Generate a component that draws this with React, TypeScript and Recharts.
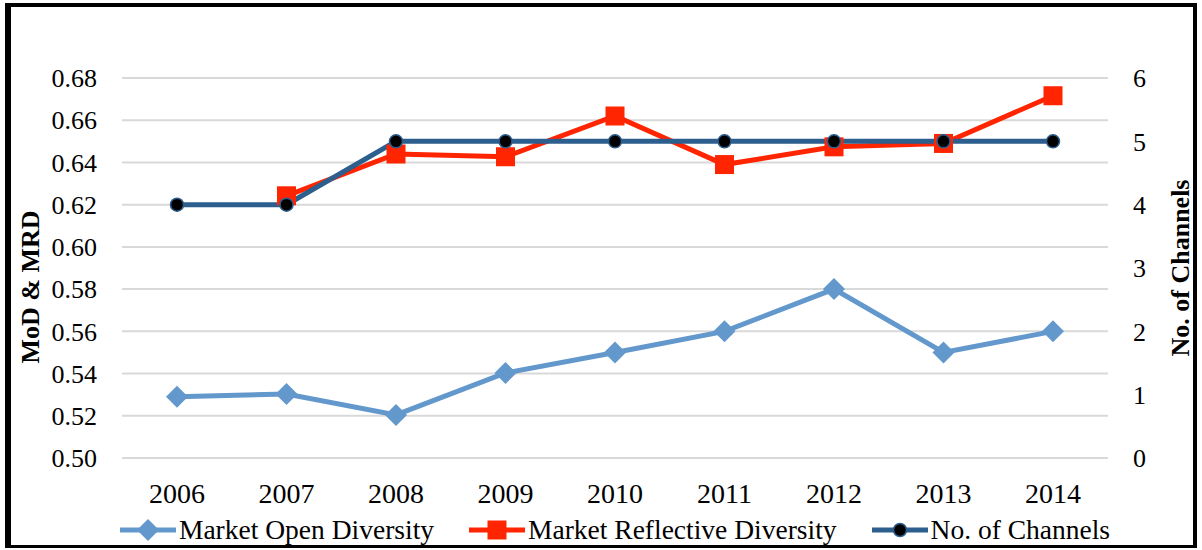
import {
  CartesianGrid,
  Legend,
  Line,
  LineChart,
  XAxis,
  YAxis
} from "recharts";

const years = ["2006", "2007", "2008", "2009", "2010", "2011", "2012", "2013", "2014"];
const openDiversity = [0.529, 0.5303, 0.5204, 0.5403, 0.55, 0.56, 0.58, 0.55, 0.56];
const reflectiveDiversity = [null, 0.6242, 0.644, 0.6427, 0.662, 0.639, 0.6474, 0.649, 0.6716];
const channels = [4, 4, 5, 5, 5, 5, 5, 5, 5];
const leftTicks = [0.5, 0.52, 0.54, 0.56, 0.58, 0.6, 0.62, 0.64, 0.66, 0.68];
const rightTicks = [0, 1, 2, 3, 4, 5, 6];

const FONT = "'Liberation Serif', 'Times New Roman', serif";
const OPEN = "#6398cd";
const REFLECT = "#ff2500";
const CHAN = "#2c5e8e";

const data = years.map((year, i) => ({
  year,
  open: openDiversity[i],
  reflective: reflectiveDiversity[i],
  channels: channels[i]
}));

const Diamond = ({ cx, cy, index }: any) =>
  cx == null || cy == null ? (
    <g key={`d-${index}`} />
  ) : (
    <path
      key={`d-${index}`}
      d={`M${cx - 11},${cy} L${cx},${cy - 11} L${cx + 11},${cy} L${cx},${cy + 11} Z`}
      fill={OPEN}
    />
  );

const Square = ({ cx, cy, index }: any) =>
  cx == null || cy == null ? (
    <g key={`s-${index}`} />
  ) : (
    <rect key={`s-${index}`} x={cx - 9.5} y={cy - 9.5} width={19} height={19} fill={REFLECT} />
  );

const Dot = ({ cx, cy, index }: any) => (
  <circle key={`c-${index}`} cx={cx} cy={cy} r={6.5} fill="#000" stroke={CHAN} strokeWidth={1.5} />
);

const legendItems = [
  { label: "Market Open Diversity", kind: "diamond", color: OPEN },
  { label: "Market Reflective Diversity", kind: "square", color: REFLECT },
  { label: "No. of Channels", kind: "dot", color: CHAN }
];

function LegendIcon({ kind, color }: { kind: string; color: string }) {
  return (
    <svg width={56} height={24}>
      <line x1={0} y1={12} x2={56} y2={12} stroke={color} strokeWidth={5} />
      {kind === "diamond" && <path d="M17,12 L28,1 L39,12 L28,23 Z" fill={color} />}
      {kind === "square" && <rect x={18.5} y={2.5} width={19} height={19} fill={color} />}
      {kind === "dot" && <circle cx={28} cy={12} r={6.5} fill="#000" stroke={color} strokeWidth={1.5} />}
    </svg>
  );
}

function ChartLegend() {
  return (
    <div style={{ display: "flex", justifyContent: "center", gap: 35, paddingLeft: 28 }}>
      {legendItems.map((item) => (
        <div key={item.label} style={{ display: "flex", alignItems: "center", gap: 3 }}>
          <LegendIcon kind={item.kind} color={item.color} />
          <span style={{ fontFamily: FONT, fontSize: 27.5, color: "#000" }}>{item.label}</span>
        </div>
      ))}
    </div>
  );
}

export default function App() {
  return (
    <div style={{ position: "absolute", left: 0, top: 0, width: 1202, height: 550, background: "#fff" }}>
      <div
        style={{
          position: "absolute",
          left: 5,
          top: 3,
          width: 1192,
          height: 545,
          boxSizing: "border-box",
          borderStyle: "solid",
          borderColor: "#000",
          borderWidth: "4px 4px 3px 6px"
        }}
      />
      <LineChart
        width={1202}
        height={550}
        data={data}
        margin={{ top: 78, right: 22, bottom: 52, left: 30 }}
        style={{ position: "absolute", left: 0, top: 0 }}
      >
        <CartesianGrid yAxisId="left" vertical={false} stroke="#d9d9d9" strokeWidth={2} />
        <XAxis
          dataKey="year"
          axisLine={false}
          tickLine={false}
          tickSize={0}
          tickMargin={25}
          height={40}
          padding={{ left: 55, right: 55 }}
          tick={{ fill: "#000", fontSize: 28, fontFamily: FONT }}
        />
        <YAxis
          yAxisId="left"
          domain={[0.5, 0.68]}
          ticks={leftTicks}
          tickFormatter={(v) => v.toFixed(2)}
          axisLine={false}
          tickLine={false}
          tickSize={0}
          tickMargin={25}
          width={92}
          tick={{ fill: "#000", fontSize: 26, fontFamily: FONT }}
          label={{
            value: "MoD & MRD",
            angle: -90,
            position: "insideLeft",
            offset: 0,
            dy: 19,
            style: { textAnchor: "middle", fontFamily: FONT, fontSize: 26, fontWeight: "bold", fill: "#000" }
          }}
        />
        <YAxis
          yAxisId="right"
          orientation="right"
          domain={[0, 6]}
          ticks={rightTicks}
          axisLine={false}
          tickLine={false}
          tickSize={0}
          tickMargin={25}
          width={72}
          tick={{ fill: "#000", fontSize: 26, fontFamily: FONT }}
          label={{
            value: "No. of Channels",
            angle: -90,
            position: "insideRight",
            offset: 0,
            style: { textAnchor: "middle", fontFamily: FONT, fontSize: 26, fontWeight: "bold", fill: "#000" }
          }}
        />
        <Legend
          verticalAlign="middle"
          layout="horizontal"
          content={() => <ChartLegend />}
          wrapperStyle={{ top: 514, left: 0, width: 1202 }}
        />
        <Line
          yAxisId="left"
          dataKey="open"
          stroke={OPEN}
          strokeWidth={5}
          dot={Diamond}
          activeDot={false}
          isAnimationActive={false}
        />
        <Line
          yAxisId="left"
          dataKey="reflective"
          stroke={REFLECT}
          strokeWidth={5}
          dot={Square}
          activeDot={false}
          isAnimationActive={false}
        />
        <Line
          yAxisId="right"
          dataKey="channels"
          stroke={CHAN}
          strokeWidth={5}
          dot={Dot}
          activeDot={false}
          isAnimationActive={false}
        />
      </LineChart>
    </div>
  );
}
